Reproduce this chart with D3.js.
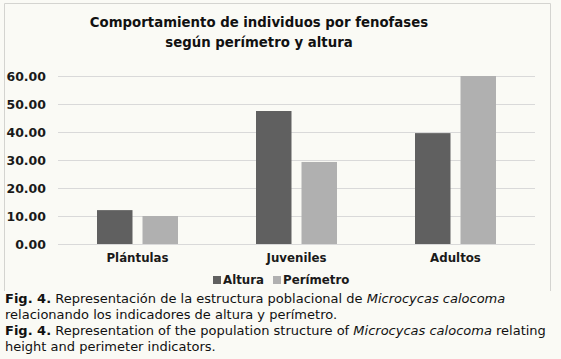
<!DOCTYPE html>
<html><head><meta charset="utf-8">
<script src="https://cdn.jsdelivr.net/npm/d3@7"></script>
<style>
html,body{margin:0;padding:0;background:#fafaf5;}
svg{display:block;}
</style></head>
<body>
<svg id="chart" width="561" height="359"></svg>
<script>
const categories = ["Plántulas", "Juveniles", "Adultos"];
const seriesNames = ["Altura", "Perímetro"];
const altura = [12.1, 47.5, 39.6];
const perimetro = [10.0, 29.3, 60.0];
const yTicks = [0, 10, 20, 30, 40, 50, 60];
const colors = ["#606060", "#b0b0b0"];
const titleLines = ["Comportamiento de individuos por fenofases", "según perímetro y altura"];

const svg = d3.select("#chart");
const font = "Verdana, 'DejaVu Sans', sans-serif";

svg.append("rect").attr("x",0).attr("y",0).attr("width",561).attr("height",359).attr("fill","#fafaf5");
// chart frame
svg.append("path").attr("d","M4.5,291 V3.5 H550.5 V291").attr("fill","none").attr("stroke","#d4d4d0").attr("stroke-width",1);

const m = {left:58, right:535, top:76, bottom:244};
const x = d3.scaleBand().domain(categories).range([m.left, m.right]).paddingInner(0).paddingOuter(0);
const y = d3.scaleLinear().domain([0,60]).range([m.bottom, m.top]);

// gridlines
svg.append("g").selectAll("line").data(yTicks).join("line")
  .attr("x1", m.left).attr("x2", m.right)
  .attr("y1", d=>Math.round(y(d))+0.5).attr("y2", d=>Math.round(y(d))+0.5)
  .attr("stroke","#d9d9d9").attr("stroke-width",1);

// y axis labels
const yAxis = d3.axisLeft(y).tickValues(yTicks).tickFormat(d3.format(".2f")).tickSize(0).tickPadding(0);
const ya = svg.append("g").attr("transform","translate(46,0)").call(yAxis);
ya.select(".domain").remove();
ya.selectAll("text").attr("font-family",font).attr("font-weight","bold").attr("font-size","12.5px").attr("fill","#1a1a1a");

// bars
const x1 = d3.scaleBand().domain(seriesNames).range([0, 81]).paddingInner(0.22);
const data = categories.map((c,i)=>({cat:c, vals:[altura[i], perimetro[i]]}));
const groups = svg.append("g").selectAll("g").data(data).join("g")
  .attr("transform", d=>`translate(${x(d.cat)+x.bandwidth()/2-40.5},0)`);
groups.selectAll("rect").data(d=>d.vals.map((v,j)=>({name:seriesNames[j], v, j})))
  .join("rect")
  .attr("x", d=>x1(d.name)).attr("width", x1.bandwidth())
  .attr("y", d=>y(d.v)).attr("height", d=>y(0)-y(d.v))
  .attr("fill", d=>colors[d.j]);

// x axis labels
const xAxis = d3.axisBottom(x).tickSize(0).tickPadding(0);
const xa = svg.append("g").attr("transform","translate(0,254)").call(xAxis);
xa.select(".domain").remove();
xa.selectAll("text").attr("font-family",font).attr("font-weight","bold").attr("font-size","11.8px").attr("fill","#1a1a1a").attr("dy","0.71em");

// title
svg.append("text").attr("x",259).attr("y",28).attr("text-anchor","middle")
  .attr("font-family",font).attr("font-weight","bold").attr("font-size","13.3px").attr("fill","#111")
  .selectAll("tspan").data(titleLines).join("tspan")
  .attr("x",259).attr("y",(d,i)=>27+i*20).text(d=>d);

// legend
const legend = svg.append("g").attr("transform","translate(213,280)");
const legX = [0, 60];
seriesNames.forEach((s,i)=>{
  legend.append("rect").attr("x",legX[i]).attr("y",-4).attr("width",8).attr("height",8).attr("fill",colors[i]);
  legend.append("text").attr("x",legX[i]+10).attr("y",0).attr("dy","0.35em")
    .attr("font-family",font).attr("font-weight","bold").attr("font-size","11.8px").attr("fill","#1a1a1a").text(s);
});

// caption
const cap = svg.append("g").attr("font-family",font).attr("font-size","13px").attr("fill","#111");
const capLines = [
  [["b","Fig. 4."],["n"," Representación de la estructura poblacional de "],["i","Microcycas calocoma"]],
  [["n","relacionando los indicadores de altura y perímetro."]],
  [["b","Fig. 4."],["n"," Representation of the population structure of "],["i","Microcycas calocoma"],["n"," relating"]],
  [["n","height and perimeter indicators."]]
];
capLines.forEach((line,i)=>{
  const t = cap.append("text").attr("x",5).attr("y",303+i*16);
  line.forEach(([k,s])=>{
    const ts = t.append("tspan").text(s);
    if(k==="b") ts.attr("font-weight","bold");
    if(k==="i") ts.attr("font-style","italic");
  });
});
</script>
</body></html>
